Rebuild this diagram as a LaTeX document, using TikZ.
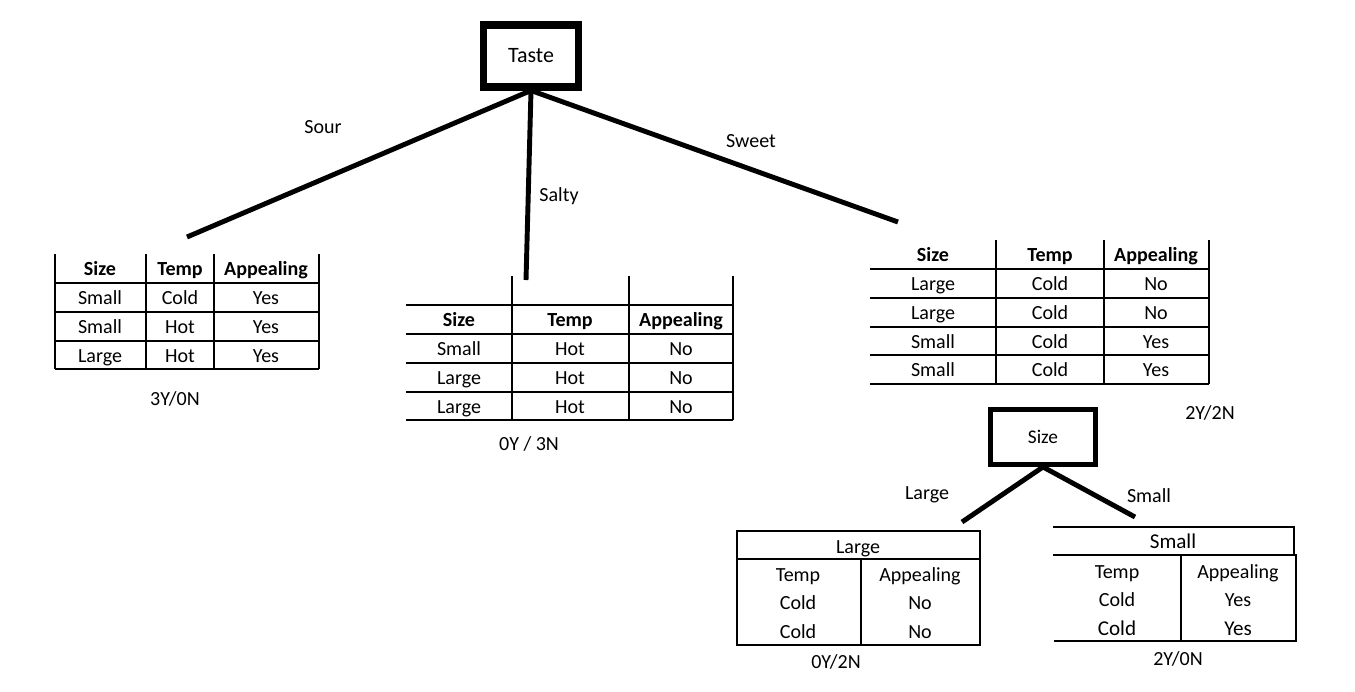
\documentclass[tikz,border=0pt]{standalone}
\usepackage{fontspec}
\setmainfont{Carlito}
\tikzset{
  box/.style={draw,line width=4pt,inner sep=0pt},
  branch/.style={line width=2.8pt},
  grid/.style={line width=0.7pt},
  cell/.style={inner sep=0pt,yshift=-0.8pt,text height=1.4ex,text depth=0pt,font=\fontsize{11.4}{13}\selectfont},
  head/.style={cell,font=\fontsize{11.4}{13}\selectfont\bfseries}
}
\begin{document}
\begin{tikzpicture}[x=0.02cm,y=-0.02cm]
  \useasboundingbox (0,0) rectangle (1355,691);
  % root and branches
  \node[box,minimum width=1.9cm,minimum height=1.24cm,font=\fontsize{12.5}{14}\selectfont] (taste) at (531,56) {Taste};
  \coordinate (sourend) at (187,237);
  \coordinate (saltyend) at (526,280);
  \coordinate (sweetend) at (898,222);
  \draw[branch] (taste.south) -- (sourend);
  \draw[branch] (taste.south) -- (saltyend);
  \draw[branch] (taste.south) -- (sweetend);
  \node[cell] (sour) at (323,126) {Sour};
  \node[cell] (salty) at (559,194) {Salty};
  \node[cell] (sweet) at (751,140) {Sweet};

  % sour table
  \foreach \y in {283,312,341,369} \draw[grid] (55,\y) -- (319,\y);
  \foreach \x in {55,146,214,319} \draw[grid] (\x,254) -- (\x,369);
  \node[head] (sourh1) at (100,268.5) {Size};
  \node[head] (sourh2) at (180,268.5) {Temp};
  \node[head] (sourh3) at (266,268.5) {Appealing};
  \foreach \a/\b/\c [count=\i] in {Small/Cold/Yes,Small/Hot/Yes,Large/Hot/Yes}{
    \node[cell] (sour\i a) at (100,268.5+29*\i) {\a};
    \node[cell] (sour\i b) at (180,268.5+29*\i) {\b};
    \node[cell] (sour\i c) at (266,268.5+29*\i) {\c};
  }
  \node[cell] (sourcount) at (175,398) {3Y/0N};

  % salty table
  \foreach \y in {305,334,363,392,420} \draw[grid] (406,\y) -- (733,\y);
  \foreach \x in {512,629,733} \draw[grid] (\x,276) -- (\x,420);
  \node[head] (saltyh1) at (459,319.5) {Size};
  \node[head] (saltyh2) at (570,319.5) {Temp};
  \node[head] (saltyh3) at (681,319.5) {Appealing};
  \foreach \a/\b/\c [count=\i] in {Small/Hot/No,Large/Hot/No,Large/Hot/No}{
    \node[cell] (salty\i a) at (459,319.5+29*\i) {\a};
    \node[cell] (salty\i b) at (570,319.5+29*\i) {\b};
    \node[cell] (salty\i c) at (681,319.5+29*\i) {\c};
  }
  \node[cell] (saltycount) at (529,443) {0Y / 3N};

  % sweet table
  \foreach \y in {269,298,327,355,384} \draw[grid] (870,\y) -- (1209,\y);
  \foreach \x in {996,1104,1209} \draw[grid] (\x,240) -- (\x,384);
  \node[head] (sweeth1) at (933,254.5) {Size};
  \node[head] (sweeth2) at (1050,254.5) {Temp};
  \node[head] (sweeth3) at (1156,254.5) {Appealing};
  \foreach \a/\b/\c [count=\i] in {Large/Cold/No,Large/Cold/No,Small/Cold/Yes,Small/Cold/Yes}{
    \node[cell] (sweet\i a) at (933,254.5+28.8*\i) {\a};
    \node[cell] (sweet\i b) at (1050,254.5+28.8*\i) {\b};
    \node[cell] (sweet\i c) at (1156,254.5+28.8*\i) {\c};
  }
  \node[cell] (sweetcount) at (1210,412) {2Y/2N};

  % size split
  \node[box,line width=2.8pt,minimum width=2.1cm,minimum height=1.1cm,font=\fontsize{11}{13}\selectfont] (size) at (1043,437) {Size};
  \coordinate (largeend) at (962,522);
  \coordinate (smallend) at (1135,517);
  \draw[branch] (size.south) -- (largeend);
  \draw[branch] (size.south) -- (smallend);
  \node[cell] (large) at (927,492) {Large};
  \node[cell] (small) at (1149,495) {Small};

  % large table
  \draw[grid] (737,531) rectangle (980,645);
  \draw[grid] (737,559) -- (980,559);
  \draw[grid] (861,559) -- (861,645);
  \node[cell] (largetitle) at (858,546) {Large};
  \node[cell] (largeh1) at (798,574) {Temp};
  \node[cell] (largeh2) at (920,574) {Appealing};
  \node[cell] (large1a) at (798,602) {Cold};
  \node[cell] (large1b) at (920,602) {No};
  \node[cell] (large2a) at (798,631) {Cold};
  \node[cell] (large2b) at (920,631) {No};
  \node[cell] (largecount) at (836,661) {0Y/2N};

  % small table
  \draw[grid] (1053,527) -- (1294,527) -- (1294,555);
  \draw[grid] (1053,555) -- (1296,555) -- (1296,641) -- (1054,641);
  \draw[grid] (1181,555) -- (1181,641);
  \node[cell,font=\fontsize{12}{14}\selectfont] (smalltitle) at (1173,541) {Small};
  \node[cell] (smallh1) at (1117,571) {Temp};
  \node[cell] (smallh2) at (1238,571) {Appealing};
  \node[cell] (small1a) at (1117,599) {Cold};
  \node[cell] (small1b) at (1238,599) {Yes};
  \node[cell,font=\fontsize{12}{14}\selectfont] (small2a) at (1117,628) {Cold};
  \node[cell,font=\fontsize{12}{14}\selectfont] (small2b) at (1238,628) {Yes};
  \node[cell] (smallcount) at (1178,658) {2Y/0N};
\end{tikzpicture}
\end{document}
